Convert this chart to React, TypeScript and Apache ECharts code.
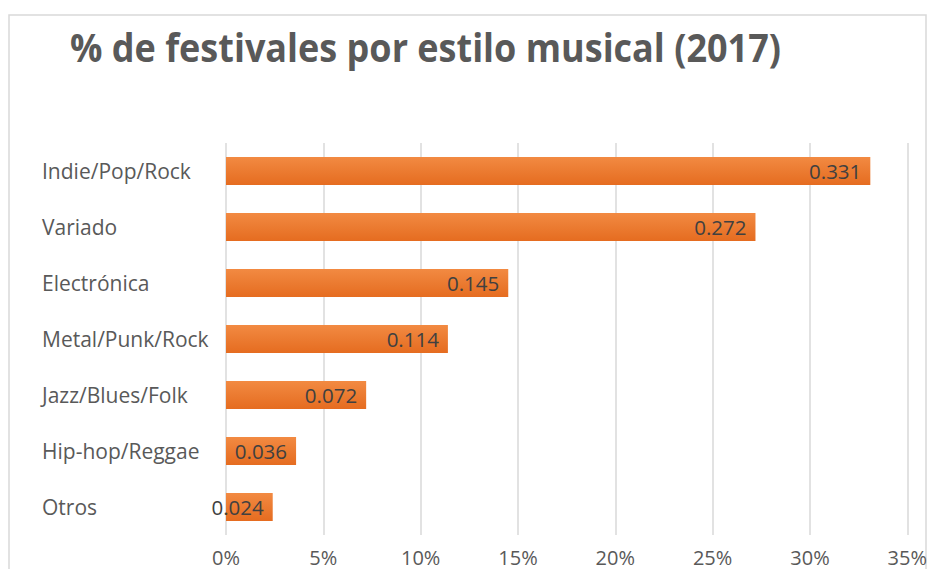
import React, { useEffect, useRef } from "react";
import * as echarts from "echarts";

const categories = [
  "Indie/Pop/Rock",
  "Variado",
  "Electrónica",
  "Metal/Punk/Rock",
  "Jazz/Blues/Folk",
  "Hip-hop/Reggae",
  "Otros",
];
const values = [0.331, 0.272, 0.145, 0.114, 0.072, 0.036, 0.024];
const titleText = "% de festivales por estilo musical (2017)";
const axisMin = 0;
const axisMax = 0.35;
const axisStep = 0.05;

export default function App() {
  const ref = useRef<HTMLDivElement>(null);
  useEffect(() => {
    if (!ref.current) return;
    const chart = echarts.init(ref.current, undefined, { renderer: "svg" });
    const font = "'Open Sans', 'DejaVu Sans', sans-serif";
    chart.setOption({
      animation: false,
      backgroundColor: "#ffffff",
      graphic: [
        {
          type: "rect",
          shape: { x: 9, y: 15, width: 917, height: 570 },
          style: { fill: "none", stroke: "#d9d9d9", lineWidth: 1.5 },
          silent: true,
        },
        {
          type: "text",
          x: 70,
          y: 46,
          scaleX: 0.9,
          style: {
            text: titleText,
            font: `bold 40px ${font}`,
            fill: "#595959",
            textVerticalAlign: "middle",
            textAlign: "left",
          },
        },
      ],
      grid: { left: 226, right: 14, top: 143, bottom: 34, containLabel: false },
      xAxis: {
        type: "value",
        min: axisMin,
        max: axisMax,
        interval: axisStep,
        axisLine: { show: false },
        axisTick: { show: false },
        splitLine: { show: true, lineStyle: { color: "#d9d9d9", width: 1.5 } },
        axisLabel: {
          color: "#595959",
          fontSize: 20,
          fontFamily: font,
          margin: 12,
          formatter: (v: number) => Math.round(v * 100) + "%",
        },
      },
      yAxis: {
        type: "category",
        data: categories,
        inverse: true,
        axisLine: { show: false },
        axisTick: { show: false },
        splitLine: { show: false },
        axisLabel: {
          color: "#595959",
          fontSize: 21,
          fontFamily: font,
          align: "left",
          margin: 184,
        },
      },
      series: [
        {
          type: "bar",
          data: values,
          barWidth: 28,
          itemStyle: {
            color: new echarts.graphic.LinearGradient(0, 0, 0, 1, [
              { offset: 0, color: "#F28A42" },
              { offset: 1, color: "#E56C20" },
            ]),
          },
          label: {
            show: true,
            position: "insideRight",
            distance: 9,
            color: "#404040",
            fontSize: 20.5,
            fontFamily: font,
            formatter: (p: any) => Number(p.value).toFixed(3),
          },
        },
      ],
    });
    return () => chart.dispose();
  }, []);
  return (
    <div
      ref={ref}
      style={{ position: "absolute", left: 0, top: 0, width: 930, height: 569 }}
    />
  );
}
